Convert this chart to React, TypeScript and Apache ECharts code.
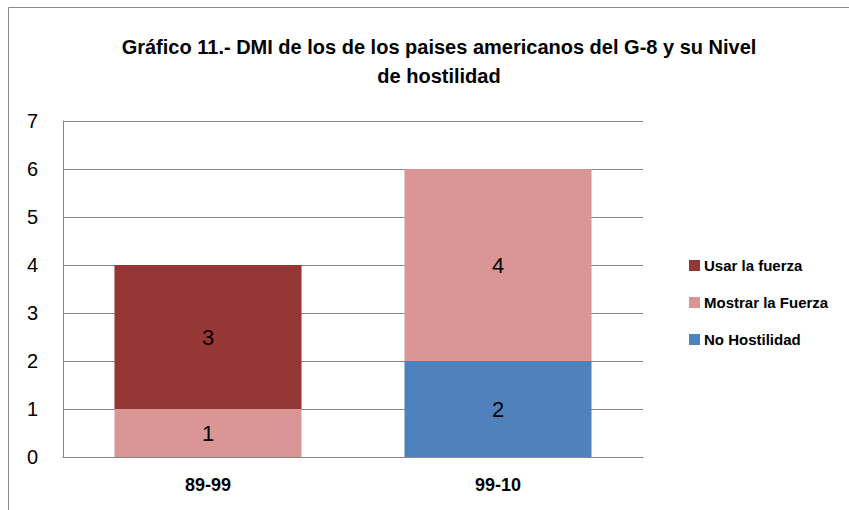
import React, { useEffect, useRef } from "react";
import * as echarts from "echarts";

const categories = ["89-99", "99-10"];
const noHostilidad = [0, 2];
const mostrarFuerza = [1, 4];
const usarFuerza = [3, 0];
const seriesNames = ["No Hostilidad", "Mostrar la Fuerza", "Usar la fuerza"];
const legendOrder = ["Usar la fuerza", "Mostrar la Fuerza", "No Hostilidad"];
const titleText = "Gráfico 11.- DMI de los de los paises americanos del G-8 y su Nivel\nde hostilidad";

const FONT = "'Liberation Sans', Arial, sans-serif";

export default function App() {
  const ref = useRef<HTMLDivElement>(null);
  useEffect(() => {
    const chart = echarts.init(ref.current!, null, { renderer: "svg" });
    const label = {
      show: true,
      position: "inside",
      color: "#000",
      fontSize: 22,
      fontFamily: FONT,
      formatter: (p: any) => (p.value ? String(p.value) : ""),
    };
    chart.setOption({
      animation: false,
      backgroundColor: "#fff",
      title: {
        text: titleText,
        left: 434,
        textAlign: "center",
        top: 27,
        textStyle: { fontSize: 20, fontWeight: "bold", fontFamily: FONT, color: "#000", lineHeight: 29 },
      },
      graphic: [
        {
          type: "rect",
          shape: { x: 8.5, y: 7.5, width: 900, height: 600 },
          style: { fill: "none", stroke: "#8a8a8a", lineWidth: 1 },
          silent: true,
        },
      ],
      legend: {
        orient: "vertical",
        left: 684,
        top: 253,
        itemGap: 22,
        itemWidth: 11,
        itemHeight: 11,
        icon: "rect",
        data: legendOrder,
        textStyle: { fontSize: 15, fontWeight: "bold", fontFamily: FONT, color: "#000", padding: [0, 0, 0, -1] },
      },
      grid: { left: 63, right: 206, top: 121, bottom: 53 },
      xAxis: {
        type: "category",
        data: categories,
        axisLine: { lineStyle: { color: "#868686" } },
        axisTick: { show: false },
        axisLabel: { fontSize: 18, fontWeight: "bold", fontFamily: FONT, color: "#000", margin: 19 },
      },
      yAxis: {
        type: "value",
        min: 0,
        max: 7,
        interval: 1,
        axisLine: { show: true, lineStyle: { color: "#868686" } },
        axisTick: { show: false },
        splitLine: { lineStyle: { color: "#868686" } },
        axisLabel: { fontSize: 20, fontFamily: FONT, color: "#000", margin: 25 },
      },
      series: [
        { name: seriesNames[0], type: "bar", stack: "s", data: noHostilidad, barWidth: "64.5%", itemStyle: { color: "#4F81BD" }, label },
        { name: seriesNames[1], type: "bar", stack: "s", data: mostrarFuerza, itemStyle: { color: "#D99694" }, label },
        { name: seriesNames[2], type: "bar", stack: "s", data: usarFuerza, itemStyle: { color: "#953735" }, label },
      ],
    });
    return () => chart.dispose();
  }, []);
  return <div ref={ref} style={{ position: "fixed", left: 0, top: 0, width: 849, height: 510 }} />;
}
